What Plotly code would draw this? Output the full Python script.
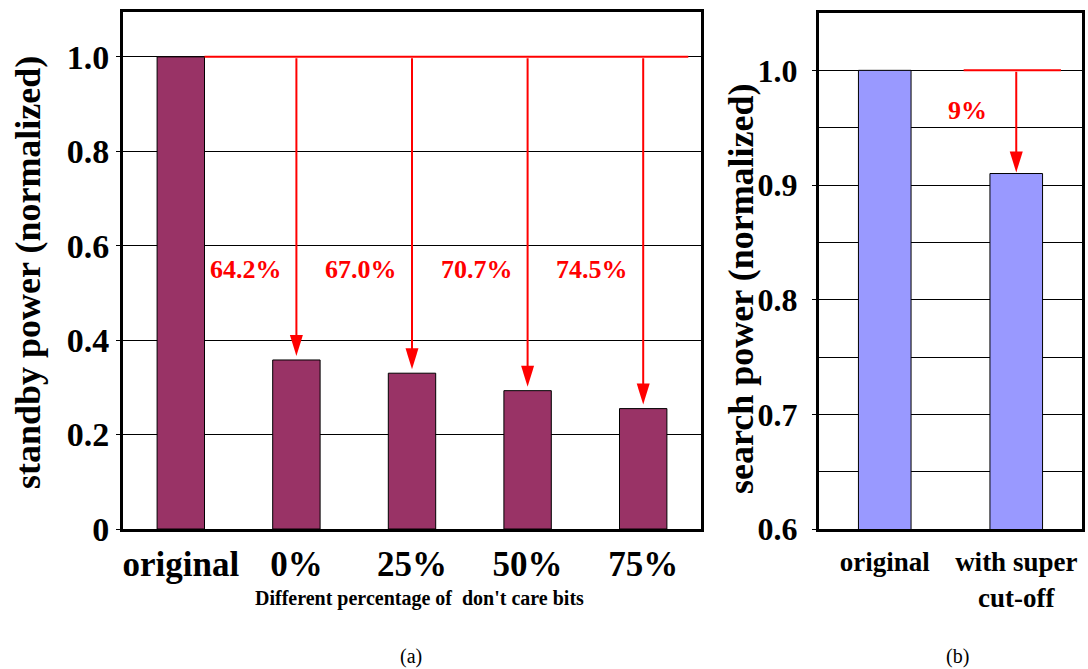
import plotly.graph_objects as go

# ---- data ----
standby_categories = ["original", "0%", "25%", "50%", "75%"]
standby_power = [1.000, 0.358, 0.330, 0.293, 0.255]

search_categories = ["original", "with super<br>cut-off"]
search_power = [1.00, 0.91]

standby_ticks = [0.0, 0.2, 0.4, 0.6, 0.8, 1.0]
standby_ticktext = ["0", "0.2", "0.4", "0.6", "0.8", "1.0"]
search_ticks = [0.6, 0.7, 0.8, 0.9, 1.0]
search_ticktext = ["0.6", "0.7", "0.8", "0.9", "1.0"]

# ---- layout constants ----
W, H = 1088, 669
FONT = "Liberation Serif"
RED = "#FF0000"


def px_x(p):
    return p / W


def px_y(p):
    return 1 - p / H


def bold(size, color="black"):
    return dict(family=FONT, size=size, color=color, weight="bold")


fig = go.Figure()

fig.add_trace(go.Bar(
    x=list(range(len(standby_categories))), y=standby_power,
    xaxis="x", yaxis="y", width=0.41,
    marker=dict(color="#993366", line=dict(color="black", width=1)),
    hoverinfo="skip",
))
fig.add_trace(go.Bar(
    x=list(range(len(search_categories))), y=search_power,
    xaxis="x2", yaxis="y2", width=0.40,
    marker=dict(color="#9999FF", line=dict(color="black", width=1)),
    hoverinfo="skip",
))

axis_common = dict(showline=True, mirror=True, linecolor="black", linewidth=3,
                   zeroline=False, fixedrange=True, automargin=False)

fig.update_layout(
    width=W, height=H,
    margin=dict(l=0, r=0, t=0, b=0, autoexpand=False),
    paper_bgcolor="white", plot_bgcolor="white",
    showlegend=False,
    font=dict(family=FONT, color="black"),
    xaxis=dict(
        domain=[px_x(123), px_x(701)], range=[-0.5, len(standby_categories) - 0.5],
        tickvals=list(range(len(standby_categories))), ticktext=standby_categories,
        tickfont=bold(35), ticks="", showgrid=False,
        ticklabelstandoff=2, anchor="y", **axis_common,
    ),
    yaxis=dict(
        domain=[px_y(529), px_y(12)], range=[0, 1.095],
        tickvals=standby_ticks, ticktext=standby_ticktext,
        tickfont=bold(34),
        ticks="outside", ticklen=4, tickcolor="black",
        showgrid=True, gridcolor="black", gridwidth=1,
        ticklabelstandoff=0, anchor="x", **axis_common,
    ),
    xaxis2=dict(
        domain=[px_x(819), px_x(1082)], range=[-0.5, len(search_categories) - 0.5],
        tickvals=list(range(len(search_categories))), ticktext=search_categories,
        tickfont=bold(27), ticks="", showgrid=False,
        ticklabelstandoff=7, anchor="y2", **axis_common,
    ),
    yaxis2=dict(
        domain=[px_y(529), px_y(13)], range=[0.6, 1.05],
        tickvals=search_ticks, ticktext=search_ticktext,
        tickfont=bold(32),
        ticks="outside", ticklen=4, tickcolor="black",
        showgrid=True, gridcolor="black", gridwidth=1,
        minor=dict(dtick=0.05, showgrid=True, gridcolor="black", gridwidth=1),
        ticklabelstandoff=8, anchor="x2", **axis_common,
    ),
)

annotations = []
shapes = []


def add_drop_arrow(xa, ya, x, top, tip, gap):
    """Red arrow falling from `top` to a bar of height `tip` (data units)."""
    annotations.append(dict(
        xref=xa, yref=ya, axref=xa, ayref=ya,
        x=x, y=tip, ax=x, ay=top, text="", showarrow=True,
        arrowhead=0, arrowwidth=2, arrowcolor=RED, standoff=gap + 10,
    ))
    shapes.append(dict(
        type="path", xref=xa, yref=ya,
        xsizemode="pixel", ysizemode="pixel", xanchor=x, yanchor=tip,
        path=f"M0,{gap} L-6.5,{gap + 21} L6.5,{gap + 21} Z",
        fillcolor=RED, line=dict(width=0),
    ))


# reduction arrows for standby power
base = standby_power[0]
shapes.append(dict(type="line", xref="x", yref="y",
                   x0=0.205, x1=len(standby_categories) - 1 + 0.39, y0=base, y1=base,
                   line=dict(color=RED, width=2)))
for i in range(1, len(standby_categories)):
    v = standby_power[i]
    add_drop_arrow("x", "y", i, base, v, 4)
    annotations.append(dict(
        xref="x", yref="y", x=i - 0.44, y=0.55,
        xanchor="center", yanchor="middle",
        text=f"{(base - v) / base * 100:.1f}%", showarrow=False,
        font=bold(26, RED),
    ))

# reduction arrow for search power
base2 = search_power[0]
shapes.append(dict(type="line", xref="x2", yref="y2",
                   x0=0.6, x1=1.34, y0=base2, y1=base2,
                   line=dict(color=RED, width=2)))
add_drop_arrow("x2", "y2", 1, base2, search_power[1], 1)
annotations.append(dict(
    xref="x2", yref="y2", x=0.63, y=0.965,
    xanchor="center", yanchor="middle",
    text=f"{(base2 - search_power[1]) / base2 * 100:.0f}%", showarrow=False,
    font=bold(26, RED),
))

# axis titles and captions
paper_text = [
    (28, 273, "standby power (normalized)", -90, bold(36)),
    (741, 289, "search power (normalized)", -90, bold(36)),
    (419, 598, "Different percentage of  don't care bits", 0, bold(20)),
    (411, 656, "(a)", 0, dict(family=FONT, size=20, color="black")),
    (957, 656, "(b)", 0, dict(family=FONT, size=20, color="black")),
]
for px, py, text, angle, font in paper_text:
    annotations.append(dict(
        xref="paper", yref="paper", x=px_x(px), y=px_y(py),
        xanchor="center", yanchor="middle", text=text, textangle=angle,
        showarrow=False, font=font,
    ))

fig.update_layout(annotations=annotations, shapes=shapes)

fig.write_html("out.html")
